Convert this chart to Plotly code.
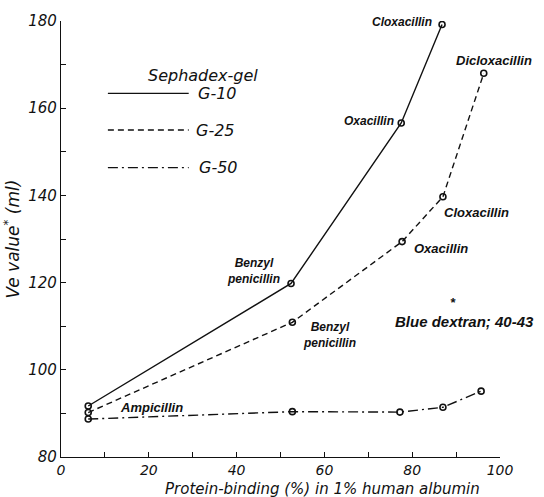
import plotly.graph_objects as go

# Data (protein binding %, Ve value ml)
g10_x = [6.2, 52.4, 77.5, 86.8]
g10_y = [91.7, 119.8, 156.6, 179.2]
g25_x = [6.2, 52.7, 77.7, 87.0, 96.3]
g25_y = [90.2, 110.9, 129.4, 139.7, 168.0]
g50_x = [6.2, 52.7, 77.2, 87.0, 95.7]
g50_y = [88.7, 90.4, 90.3, 91.4, 95.1]

FONT = "Liberation Sans"
FONT2 = "DejaVu Sans"

def pos(px, py):
    return (px - 60) / 4.4, 80 + (457 - py) / 4.4

fig = go.Figure()
line_col = "#111"
for xs, ys, dash, name in [(g10_x, g10_y, "solid", "G-10"),
                           (g25_x, g25_y, "6px,4px", "G-25"),
                           (g50_x, g50_y, "10px,4px,2px,4px", "G-50")]:
    fig.add_trace(go.Scatter(
        x=xs, y=ys, mode="lines+markers", name=name,
        line=dict(color=line_col, width=1.4, dash=dash),
        marker=dict(symbol="circle-open", size=6, color=line_col, line=dict(width=1.6)),
        showlegend=False))

annots = []
def lab(text, px, py, xanchor="left", size=12, weight="bold", family=FONT):
    x, y = pos(px, py)
    annots.append(dict(x=x, y=y, xref="x", yref="y", text=text, showarrow=False,
                       xanchor=xanchor, yanchor="middle",
                       font=dict(family=family, size=size, color="#111", style="italic", weight=weight)))

lab("Cloxacillin", 434, 18, "right")
lab("Oxacillin", 396, 118, "right")
lab("Dicloxacillin", 494, 57, "center", size=13)
lab("Cloxacillin", 476, 210, "center", size=13)
lab("Oxacillin", 441, 247, "center", size=13)
lab("Benzyl<br>penicillin", 253, 269, "center")
lab("Benzyl<br>penicillin", 329, 334, "center")
lab("Ampicillin", 117, 407, "left", size=13)
lab("*", 453, 301, "center", size=13)
lab("Blue dextran; 40-43", 464, 320, "center", size=15)

# legend
lab("Sephadex-gel", 145, 72, "left", size=16, weight="normal", family=FONT2)
for py, name, tx, dash in [(90, "G-10", 195, "solid"), (127, "G-25", 193, "6px,4px"),
                           (165, "G-50", 196, "10px,4px,2px,4px")]:
    x0, y0 = pos(107, py)
    x1, _ = pos(188, py)
    fig.add_shape(type="line", x0=x0, x1=x1, y0=y0, y1=y0, xref="x", yref="y",
                  line=dict(color=line_col, width=1.4, dash=dash))
    lab(name, tx, py, "left", size=16, weight="normal", family=FONT2)

annots.append(dict(x=(322 - 60) / 440, y=-(489 - 457) / 440, xref="paper", yref="paper",
                   text="Protein-binding (%) in 1% human albumin", showarrow=False,
                   xanchor="center", yanchor="middle",
                   font=dict(family=FONT2, size=15, color="#111", style="italic")))

fig.update_layout(
    width=544, height=497,
    margin=dict(l=60, r=44, t=17, b=40),
    paper_bgcolor="white", plot_bgcolor="white",
    annotations=annots,
    font=dict(family=FONT2, color="#111"),
)
fig.update_xaxes(range=[0, 100], dtick=20, tick0=0, ticks="inside", ticklen=5,
                 showline=True, linecolor="#111", linewidth=1.3, showgrid=False, zeroline=False,
                 minor=dict(dtick=10, ticks="inside", ticklen=5, tickcolor="#111"),
                 tickcolor="#111", ticklabelstandoff=0,
                 tickfont=dict(family=FONT2, size=14, style="italic", color="#111"))
fig.update_yaxes(range=[80, 180], dtick=20, tick0=80, ticks="inside", ticklen=5,
                 showline=True, linecolor="#111", linewidth=1.3, showgrid=False, zeroline=False,
                 minor=dict(dtick=10, ticks="inside", ticklen=5, tickcolor="#111"),
                 tickcolor="#111",
                 title=dict(text="Ve value<sup>*</sup> (ml)", standoff=4,
                            font=dict(family=FONT2, size=17, style="italic", color="#111")),
                 tickfont=dict(family=FONT2, size=15, style="italic", color="#111"))

fig.write_html("out.html")
